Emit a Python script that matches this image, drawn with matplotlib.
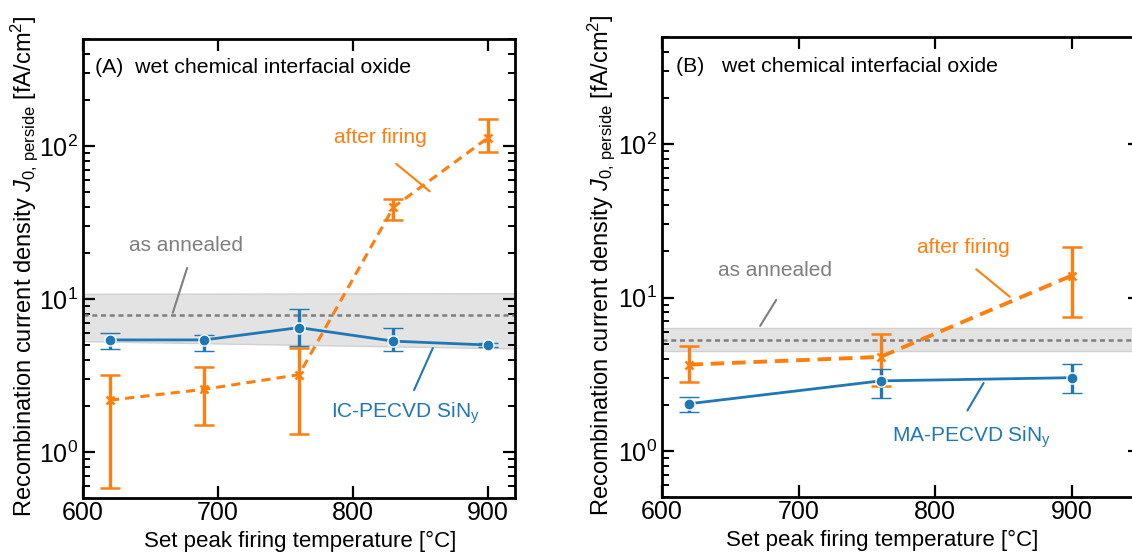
import matplotlib
matplotlib.use('Agg')
import matplotlib.pyplot as plt
from matplotlib.ticker import LogLocator, NullFormatter, LogFormatterMathtext

plt.rcParams['font.family'] = ['Liberation Sans', 'DejaVu Sans']
plt.rcParams['mathtext.fontset'] = 'custom'
plt.rcParams['mathtext.rm'] = 'Liberation Sans'
plt.rcParams['mathtext.it'] = 'Liberation Sans:italic'
plt.rcParams['mathtext.bf'] = 'Liberation Sans:bold'

# ---- data, panel A (IC-PECVD SiNy) ----
temp_a = [620, 690, 760, 830, 900]
ic_j0 = [5.4, 5.4, 6.5, 5.3, 5.0]
ic_lo = [4.7, 4.6, 4.9, 4.6, 4.85]
ic_hi = [6.0, 5.8, 8.6, 6.5, 5.15]
fired_a_j0 = [2.18, 2.57, 3.2, 39.8, 113]
fired_a_lo = [0.58, 1.5, 1.31, 32.7, 91]
fired_a_hi = [3.2, 3.6, 4.8, 45, 150]
annealed_a = 7.85
annealed_a_band_x = [600, 920]
annealed_a_band_lo = [5.3, 4.75]
annealed_a_band_hi = [10.8, 10.9]

# ---- data, panel B (MA-PECVD SiNy) ----
temp_b = [620, 760, 900]
ma_j0 = [2.03, 2.86, 3.0]
ma_lo = [1.8, 2.22, 2.4]
ma_hi = [2.25, 3.44, 3.7]
fired_b_j0 = [3.65, 4.1, 13.9]
fired_b_lo = [2.83, 2.66, 7.5]
fired_b_hi = [4.85, 5.8, 21.5]
annealed_b = 5.3
annealed_b_band_x = [600, 950]
annealed_b_band_lo = [4.5, 4.5]
annealed_b_band_hi = [6.3, 6.3]

BLUE = '#1f77b4'
ORANGE = '#ff7f0e'
GREY = '#7f7f7f'
FS = 16


def yerr(v, lo, hi):
    return [[a - b for a, b in zip(v, lo)], [c - a for a, c in zip(v, hi)]]


def style_axes(ax, xmax):
    ax.set_yscale('log')
    ax.set_xlim(600, xmax)
    ax.set_ylim(0.5, 500)
    ax.set_xticks([600, 700, 800, 900])
    ax.yaxis.set_major_locator(LogLocator(base=10, numticks=10))
    ax.yaxis.set_minor_locator(LogLocator(base=10, subs=range(2, 10), numticks=20))
    ax.yaxis.set_major_formatter(LogFormatterMathtext())
    ax.yaxis.set_minor_formatter(NullFormatter())
    ax.tick_params(which='both', direction='in', top=True, right=True, labelsize=FS + 2)
    ax.tick_params(which='major', length=8.5, width=1.6)
    ax.tick_params(which='minor', length=5, width=1.4)
    ax.tick_params(axis='x', pad=2)
    for s in ax.spines.values():
        s.set_linewidth(2)
    ax.set_xlabel('Set peak firing temperature [°C]', fontsize=FS)
    ax.set_ylabel(r'Recombination current density $J_{0,\,\mathrm{perside}}$ [fA/cm$^2$]',
                  fontsize=FS + 1)


def draw_panel(ax, bx, blo, bhi, aline, temps, bj, blow, bhigh, ftemps, fj, flow, fhigh,
               dash_lw, dashes):
    ax.fill_between(bx, blo, bhi, color='#e3e3e3', edgecolor='#d0d0d0', lw=1, zorder=1)
    ax.axhline(aline, color=GREY, ls=(0, (2, 1.5)), lw=1.8, zorder=2)
    ax.errorbar(temps, bj, yerr=yerr(bj, blow, bhigh), color=BLUE, lw=2, marker='o', ms=8,
                mec='white', mew=1, elinewidth=2.4, capsize=7, capthick=2.6, zorder=4)
    ax.errorbar(ftemps, fj, yerr=yerr(fj, flow, fhigh), color=ORANGE, lw=dash_lw, ls=(0, dashes),
                marker='x', ms=6, mew=1.8, elinewidth=2.4, capsize=7, capthick=2.6, zorder=3)


fig = plt.figure(figsize=(11.32, 5.56), dpi=100)
ax_a = fig.add_axes([0.0733, 0.1043, 0.3816, 0.8255])
ax_b = fig.add_axes([0.5848, 0.1061, 0.4223, 0.8273])

# panel A
draw_panel(ax_a, annealed_a_band_x, annealed_a_band_lo, annealed_a_band_hi, annealed_a,
           temp_a, ic_j0, ic_lo, ic_hi, temp_a, fired_a_j0, fired_a_lo, fired_a_hi, 2.2, (3, 2))
style_axes(ax_a, 920)
ax_a.text(0.028, 0.939, '(A)  wet chemical interfacial oxide', transform=ax_a.transAxes,
          fontsize=FS - 0.7, va='center', ha='left')
ax_a.text(676, 22.4, 'as annealed', color=GREY, fontsize=FS - 1, ha='center', va='center')
ax_a.annotate('', xy=(665.9, 7.8), xytext=(677.8, 16.6),
              arrowprops=dict(arrowstyle='-', color=GREY, lw=1.5))
ax_a.text(820, 114, 'after firing', color=ORANGE, fontsize=FS - 1, ha='center', va='center')
ax_a.annotate('', xy=(858.5, 49.2), xytext=(830.4, 78.5),
              arrowprops=dict(arrowstyle='-', color=ORANGE, lw=1.5))
ax_a.text(839, 1.8, r'IC-PECVD SiN$_\mathrm{y}$', color=BLUE, fontsize=FS - 1, ha='center', va='center')
ax_a.annotate('', xy=(860, 4.96), xytext=(844.4, 2.44),
              arrowprops=dict(arrowstyle='-', color=BLUE, lw=1.5))
ax_a.yaxis.set_label_coords(-0.100, 0.505)
ax_a.xaxis.set_label_coords(0.502, -0.072)

# panel B
draw_panel(ax_b, annealed_b_band_x, annealed_b_band_lo, annealed_b_band_hi, annealed_b,
           temp_b, ma_j0, ma_lo, ma_hi, temp_b, fired_b_j0, fired_b_lo, fired_b_hi, 2.8, (3.5, 2))
style_axes(ax_b, 950)
ax_b.text(0.029, 0.935, '(B)   wet chemical interfacial oxide', transform=ax_b.transAxes,
          fontsize=FS - 0.7, va='center', ha='left')
ax_b.text(683, 15.0, 'as annealed', color=GREY, fontsize=FS - 1, ha='center', va='center')
ax_b.annotate('', xy=(670.8, 6.3), xytext=(684.7, 10.0),
              arrowprops=dict(arrowstyle='-', color=GREY, lw=1.5))
ax_b.text(820.4, 21.2, 'after firing', color=ORANGE, fontsize=FS - 1, ha='center', va='center')
ax_b.annotate('', xy=(856.2, 9.85), xytext=(828.5, 15.7),
              arrowprops=dict(arrowstyle='-', color=ORANGE, lw=1.5))
ax_b.text(827, 1.22, r'MA-PECVD SiN$_\mathrm{y}$', color=BLUE, fontsize=FS - 1, ha='center', va='center')
ax_b.annotate('', xy=(836.5, 2.87), xytext=(822.6, 1.77),
              arrowprops=dict(arrowstyle='-', color=BLUE, lw=1.5))
ax_b.yaxis.set_label_coords(-0.094, 0.505)
ax_b.xaxis.set_label_coords(0.46, -0.072)

fig.savefig('out.png', dpi=100)
